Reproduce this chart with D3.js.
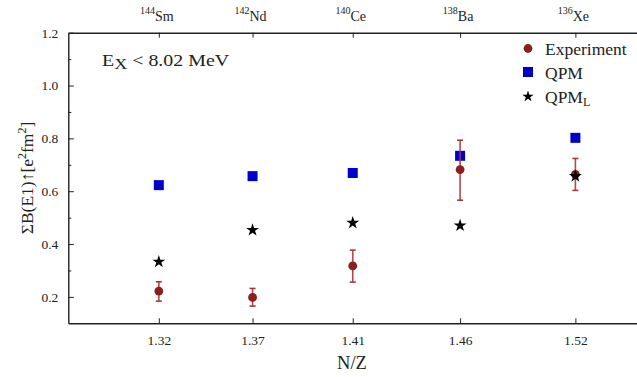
<!DOCTYPE html>
<html>
<head>
<meta charset="utf-8">
<script src="https://cdn.jsdelivr.net/npm/d3@7"></script>
<style>
  html, body { margin: 0; padding: 0; background: #fff; }
</style>
</head>
<body>
<svg id="chart" width="637" height="377"></svg>
<script>
// ---- data ----
const nuclei = ["144Sm", "142Nd", "140Ce", "138Ba", "136Xe"];
const massNumbers = ["144", "142", "140", "138", "136"];
const symbols = ["Sm", "Nd", "Ce", "Ba", "Xe"];
const nOverZ = [82/62, 82/60, 82/58, 82/56, 82/54];
const nOverZLabels = ["1.32", "1.37", "1.41", "1.46", "1.52"];
const experiment = [0.222, 0.198, 0.317, 0.682, 0.664];
const experimentLow = [0.184, 0.165, 0.256, 0.566, 0.603];
const experimentHigh = [0.257, 0.232, 0.377, 0.793, 0.724];
const qpm = [0.623, 0.657, 0.669, 0.734, 0.802];
const qpmL = [0.333, 0.453, 0.480, 0.470, 0.657];
const yTicks = [0.2, 0.4, 0.6, 0.8, 1.0, 1.2];
const yMinorTicks = [0.3, 0.5, 0.7, 0.9, 1.1];

// ---- layout ----
const FONT = "Liberation Serif";
const svg = d3.select("#chart").attr("font-family", FONT);
const pL = 68.3, pR = 637, pT = 32.7, pB = 323.3;
const x = d3.scaleLinear().domain([1.28, 1.5475]).range([pL, pR]);
const y = d3.scaleLinear().domain([0.1, 1.2]).range([pB, pT]);

const axisColor = "#222";
const cExp = "#8b1f1f", cErr = "#a33a3a", cQpm = "#0000cc";

// bottom axis
const xAxis = d3.axisBottom(x).tickValues(nOverZ)
  .tickFormat((d, i) => nOverZLabels[i]).tickSizeInner(-5).tickSizeOuter(0).tickPadding(12);
const gx = svg.append("g").attr("transform", `translate(0,${pB})`).call(xAxis).attr("font-family", FONT);
gx.select(".domain").attr("stroke", axisColor).attr("stroke-width", 1.4);
gx.selectAll(".tick line").attr("stroke", axisColor).attr("stroke-width", 1);
gx.selectAll(".tick text").attr("font-size", 13.5).attr("fill", "#222");

// top axis
const xTop = d3.axisTop(x).tickValues(nOverZ).tickFormat("").tickSizeInner(-5).tickSizeOuter(0);
const gt = svg.append("g").attr("transform", `translate(0,${pT})`).call(xTop);
gt.select(".domain").attr("stroke", axisColor).attr("stroke-width", 1.4);
gt.selectAll(".tick line").attr("stroke", axisColor).attr("stroke-width", 1);
const topLabels = svg.append("g");
nOverZ.forEach((v, i) => {
  const t = topLabels.append("text")
    .attr("x", x(v) - 2).attr("y", 21)
    .attr("text-anchor", "middle").attr("fill", "#222");
  t.append("tspan").attr("font-size", 10).attr("dy", -7).text(massNumbers[i]);
  t.append("tspan").attr("font-size", 14).attr("dy", 7).text(symbols[i]);
});

// left axis
const yAxis = d3.axisLeft(y).tickValues(yTicks).tickFormat(d3.format(".1f"))
  .tickSizeInner(-5.5).tickSizeOuter(0).tickPadding(10);
const gy = svg.append("g").attr("transform", `translate(${pL},0)`).call(yAxis).attr("font-family", FONT);
gy.select(".domain").attr("stroke", axisColor).attr("stroke-width", 1.4);
gy.selectAll(".tick line").attr("stroke", axisColor).attr("stroke-width", 1);
gy.selectAll(".tick text").attr("font-size", 13.5).attr("fill", "#222");
const yMinor = d3.axisLeft(y).tickValues(yMinorTicks).tickFormat("").tickSizeInner(-3).tickSizeOuter(0);
const gym = svg.append("g").attr("transform", `translate(${pL},0)`).call(yMinor);
gym.select(".domain").remove();
gym.selectAll(".tick line").attr("stroke", axisColor).attr("stroke-width", 1);

// axis titles
svg.append("text").attr("x", 352).attr("y", 369).attr("text-anchor", "middle")
  .attr("font-size", 18.5).attr("fill", "#222").text("N/Z");
const yl = svg.append("text")
  .attr("transform", "translate(33,178) rotate(-90)")
  .attr("text-anchor", "middle").attr("font-size", 17.5).attr("fill", "#222");
yl.append("tspan").text("ΣB(E1)↑[e");
yl.append("tspan").attr("font-size", 12).attr("dy", -7).text("2");
yl.append("tspan").attr("dy", 7).text("fm");
yl.append("tspan").attr("font-size", 12).attr("dy", -7).text("2");
yl.append("tspan").attr("dy", 7).text("]");

// annotation
const ann = svg.append("text").attr("transform", "translate(102,66) scale(1.17,1)")
  .attr("font-size", 17).attr("fill", "#222");
ann.append("tspan").text("E");
ann.append("tspan").attr("font-size", 15.5).attr("dy", 2.5).text("X");
ann.append("tspan").attr("dy", -2.5).text(" < 8.02 MeV");

// data marks
const plot = svg.append("g");
// QPM squares
plot.selectAll("rect.qpm").data(qpm).join("rect")
  .attr("x", (d, i) => x(nOverZ[i]) - 5).attr("y", d => y(d) - 5)
  .attr("width", 10).attr("height", 10).attr("fill", cQpm);
// error bars
const eb = plot.selectAll("g.err").data(experiment).join("g");
eb.append("line")
  .attr("x1", (d, i) => x(nOverZ[i])).attr("x2", (d, i) => x(nOverZ[i]))
  .attr("y1", (d, i) => y(experimentLow[i])).attr("y2", (d, i) => y(experimentHigh[i]))
  .attr("stroke", cErr).attr("stroke-width", 1.6).attr("opacity", 0.9);
eb.append("line")
  .attr("x1", (d, i) => x(nOverZ[i]) - 3).attr("x2", (d, i) => x(nOverZ[i]) + 3)
  .attr("y1", (d, i) => y(experimentLow[i])).attr("y2", (d, i) => y(experimentLow[i]))
  .attr("stroke", cErr).attr("stroke-width", 1.6);
eb.append("line")
  .attr("x1", (d, i) => x(nOverZ[i]) - 3).attr("x2", (d, i) => x(nOverZ[i]) + 3)
  .attr("y1", (d, i) => y(experimentHigh[i])).attr("y2", (d, i) => y(experimentHigh[i]))
  .attr("stroke", cErr).attr("stroke-width", 1.6);
// experiment circles
plot.selectAll("circle.exp").data(experiment).join("circle")
  .attr("cx", (d, i) => x(nOverZ[i])).attr("cy", d => y(d)).attr("r", 4.4).attr("fill", cExp);
// QPM_L stars
const star = d3.symbol().type(d3.symbolStar).size(52);
plot.selectAll("path.star").data(qpmL).join("path")
  .attr("d", star).attr("transform", (d, i) => `translate(${x(nOverZ[i])},${y(d)})`)
  .attr("fill", "#000");

// legend
const lg = svg.append("g");
lg.append("circle").attr("cx", 528).attr("cy", 48.5).attr("r", 4.4).attr("fill", cExp);
lg.append("text").attr("x", 545).attr("y", 55).attr("font-size", 17.5).attr("fill", "#222").text("Experiment");
lg.append("rect").attr("x", 523).attr("y", 67).attr("width", 10).attr("height", 10).attr("fill", cQpm);
lg.append("text").attr("x", 545).attr("y", 79).attr("font-size", 17.5).attr("fill", "#222").text("QPM");
lg.append("path").attr("d", d3.symbol().type(d3.symbolStar).size(40))
  .attr("transform", "translate(528,96.5)").attr("fill", "#000");
const ql = lg.append("text").attr("x", 545).attr("y", 103).attr("font-size", 17.5).attr("fill", "#222");
ql.append("tspan").text("QPM");
ql.append("tspan").attr("font-size", 12).attr("dy", 3).text("L");
</script>
</body>
</html>
